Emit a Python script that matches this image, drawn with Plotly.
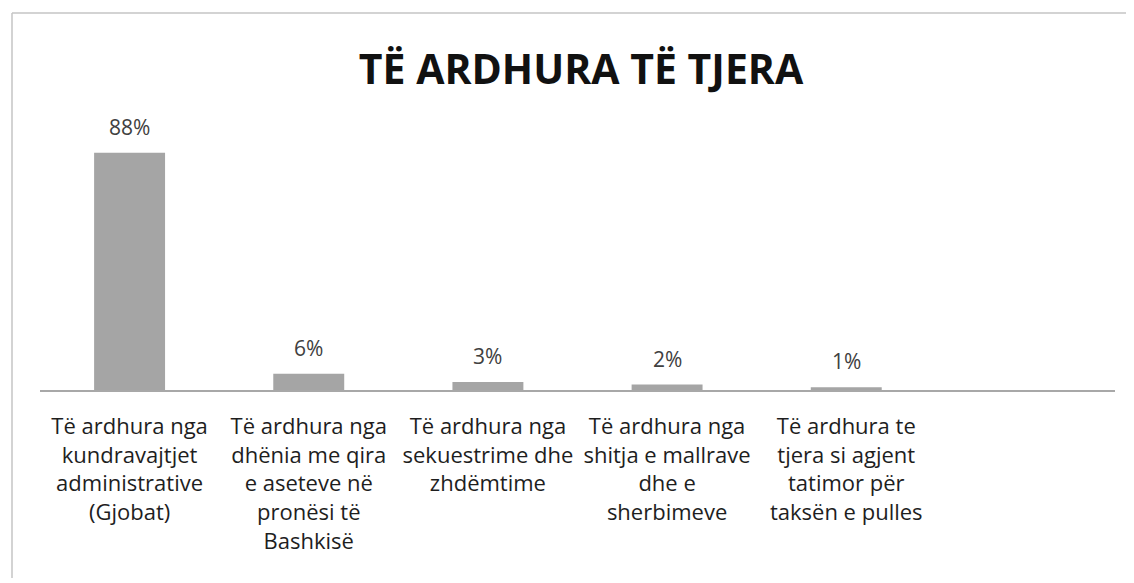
import plotly.graph_objects as go

categories = [
    "Të ardhura nga<br>kundravajtjet<br>administrative<br>(Gjobat)",
    "Të ardhura nga<br>dhënia me qira<br>e aseteve në<br>pronësi të<br>Bashkisë",
    "Të ardhura nga<br>sekuestrime dhe<br>zhdëmtime",
    "Të ardhura nga<br>shitja e mallrave<br>dhe e<br>sherbimeve",
    "Të ardhura te<br>tjera si agjent<br>tatimor për<br>taksën e pulles",
    " ",
]
values = [88, 6, 3, 2, 1, None]
value_labels = ["88%", "6%", "3%", "2%", "1%", ""]
title_text = "TË ARDHURA TË TJERA"

FONT = "Open Sans"

# page has an 8px body margin, so the figure is drawn offset by 8px
OFF = 8
W, H = 1134 - OFF, 583 - OFF
L, R, T, B = 40 - OFF, 1115 - OFF, 100 - OFF, 390 - OFF

fig = go.Figure()
fig.add_trace(go.Bar(
    x=categories,
    y=values,
    marker=dict(color="#a5a5a5", line=dict(width=0)),
    hoverinfo="skip",
))

for c, v, t in zip(categories, values, value_labels):
    if v is None:
        continue
    fig.add_annotation(
        x=c, y=v, text=t, showarrow=False, yanchor="bottom", yshift=10,
        font=dict(family=FONT, size=21, color="#404040"),
    )

fig.update_layout(
    width=W, height=H,
    margin=dict(l=L, r=W - R, t=T, b=H - B, autoexpand=False),
    paper_bgcolor="white",
    plot_bgcolor="white",
    bargap=0.604,
    showlegend=False,
    title=dict(
        text="<b>" + title_text + "</b>",
        x=(581 - OFF) / W, xanchor="center", y=1 - (70 - OFF) / H, yanchor="middle",
        font=dict(family=FONT, size=41, color="#111111"),
    ),
    xaxis=dict(
        type="category",
        showline=True, linecolor="#a8a8a8", linewidth=1.5,
        showgrid=False, zeroline=False,
        ticks="", ticklabelstandoff=16,
        tickfont=dict(family=FONT, size=22, color="#1e1e1e"),
        tickangle=0,
    ),
    yaxis=dict(
        range=[0, 107.6], visible=False, showgrid=False, zeroline=False,
    ),
)

# scanned frame border (top and left edges)
xl = (12 - 40) / (R - L)
xr = (W + 2 - L) / (R - L)
yt = (B - (13 - OFF)) / (B - T)
yb = (B - (578 - OFF)) / (B - T)
fig.add_shape(type="line", xref="paper", yref="paper", x0=xl, x1=xr, y0=yt, y1=yt,
              line=dict(color="#c4c4c4", width=1.5))
fig.add_shape(type="line", xref="paper", yref="paper", x0=xl, x1=xl, y0=yt, y1=yb,
              line=dict(color="#c4c4c4", width=1.5))

fig.write_html("out.html")
